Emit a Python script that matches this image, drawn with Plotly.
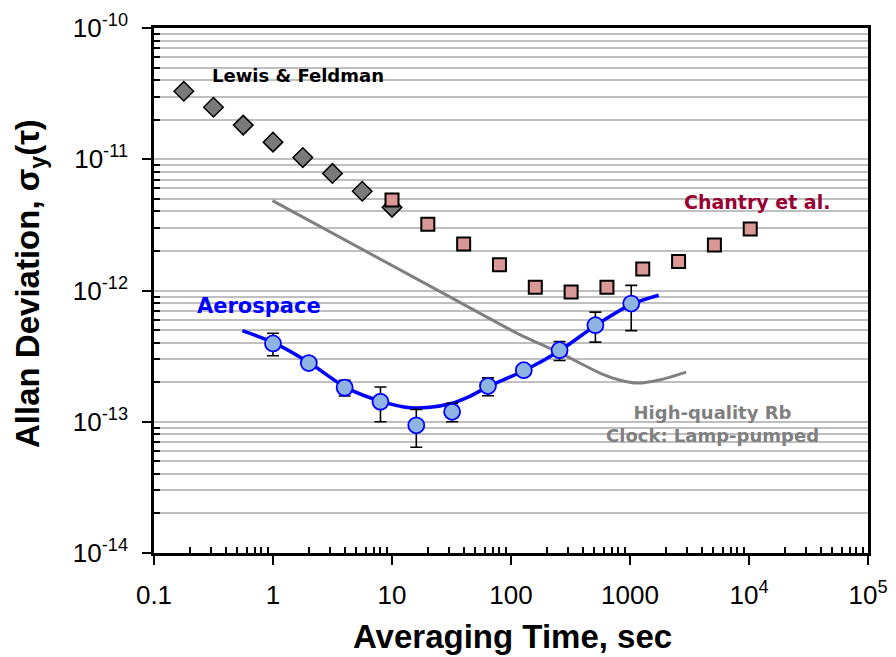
import plotly.graph_objects as go

# ---------------- data ----------------
lewis_tau = [0.178, 0.316, 0.562, 1.0, 1.78, 3.16, 5.62, 10.0]
lewis_sigma = [3.30e-11, 2.49e-11, 1.82e-11, 1.35e-11, 1.03e-11, 7.8e-12, 5.7e-12, 4.3e-12]

chantry_tau = [10, 20, 40, 80, 160, 320, 640, 1280, 2560, 5120, 10240]
chantry_sigma = [4.9e-12, 3.2e-12, 2.26e-12, 1.57e-12, 1.06e-12, 0.975e-12, 1.06e-12,
                 1.46e-12, 1.66e-12, 2.22e-12, 2.94e-12]

aero_tau = [1, 2, 4, 8, 16, 32, 64, 128, 256, 512, 1024]
aero_sigma = [3.95e-13, 2.80e-13, 1.82e-13, 1.42e-13, 9.4e-14, 1.19e-13, 1.87e-13,
              2.47e-13, 3.51e-13, 5.44e-13, 7.95e-13]
aero_err = [0.77e-13, 0.2e-13, 0.25e-13, 0.42e-13, 0.30e-13, 0.19e-13, 0.29e-13,
            0.2e-13, 0.58e-13, 1.4e-13, 3.0e-13]

aero_fit_tau = [0.553, 1.03, 2.05, 4.12, 8.22, 14.2, 20.9, 30.8, 45.5, 65.6, 131, 261, 518, 1047, 1742]
aero_fit_sigma = [4.95e-13, 3.97e-13, 2.79e-13, 1.82e-13, 1.425e-13, 1.28e-13, 1.29e-13,
                  1.37e-13, 1.57e-13, 1.87e-13, 2.47e-13, 3.51e-13, 5.44e-13, 7.9e-13, 9.2e-13]

rb_tau = [0.99, 25.4, 119.7, 260, 564, 830, 1148, 1803, 2966]
rb_sigma = [4.84e-12, 9.8e-13, 4.59e-13, 3.33e-13, 2.34e-13, 2.07e-13, 1.97e-13, 2.09e-13, 2.39e-13]

x_tickvals = [0.1, 1, 10, 100, 1000, 1e4, 1e5]
x_ticktext = ["0.1", "1", "10", "100", "1000", "10<sup>4</sup>", "10<sup>5</sup>"]
y_tickvals = [1e-14, 1e-13, 1e-12, 1e-11, 1e-10]
y_ticktext = ["10<sup>-14</sup>", "10<sup>-13</sup>", "10<sup>-12</sup>", "10<sup>-11</sup>", "10<sup>-10</sup>"]

# ---------------- layout helpers ----------------
OFF = 8  # page body margin
W, H = 896 - OFF, 657 - OFF
L, R, T, B = 154, 868, 28, 553  # plot area in screen pixels


def px(x):
    return (x - L) / (R - L)


def py(y):
    return 1 - (y - T) / (B - T)


fig = go.Figure()

fig.add_trace(go.Scatter(x=rb_tau, y=rb_sigma, mode="lines",
                         line=dict(color="#808080", width=3, shape="spline", smoothing=0.6),
                         showlegend=False, hoverinfo="skip"))
fig.add_trace(go.Scatter(x=aero_fit_tau, y=aero_fit_sigma, mode="lines",
                         line=dict(color="#0000FF", width=3.5, shape="spline", smoothing=0.8),
                         showlegend=False, hoverinfo="skip"))
fig.add_trace(go.Scatter(x=aero_tau, y=aero_sigma, mode="markers",
                         marker=dict(symbol="circle", size=16, color="#8DB4E2",
                                     line=dict(color="#0000FF", width=1.8)),
                         error_y=dict(type="data", array=aero_err, visible=True,
                                      color="black", thickness=1.6, width=6),
                         showlegend=False))
fig.add_trace(go.Scatter(x=lewis_tau, y=lewis_sigma, mode="markers",
                         marker=dict(symbol="diamond", size=15, color="#7A7A7A",
                                     line=dict(color="black", width=1.5)),
                         showlegend=False))
fig.add_trace(go.Scatter(x=chantry_tau, y=chantry_sigma, mode="markers",
                         marker=dict(symbol="square", size=13, color="#D99795",
                                     line=dict(color="black", width=2)),
                         showlegend=False))

# white label boxes (cover grid lines, under traces)
boxes = [(198, 52, 400, 93), (670, 186, 850, 216), (182, 288, 335, 322), (585, 395, 836, 457)]
for x0, y0, x1, y1 in boxes:
    fig.add_shape(type="rect", xref="paper", yref="paper",
                  x0=px(x0), x1=px(x1), y0=py(y1), y1=py(y0),
                  fillcolor="white", line=dict(width=0), layer="between")

lab_font = "DejaVu Sans"


def label(x, y, text, size, color, family=lab_font, angle=0):
    fig.add_annotation(xref="paper", yref="paper", x=px(x), y=py(y), text=text,
                       xanchor="center", yanchor="middle", textangle=angle,
                       showarrow=False, font=dict(family=family, size=size, color=color))


label(298, 75, "<b>Lewis &amp; Feldman</b>", 18, "black")
label(757, 202, "<b>Chantry et al.</b>", 19, "#990033")
label(259, 306, "<b>Aerospace</b>", 21, "#0000FF")
label(712, 424, "<b>High-quality Rb</b><br><b>Clock: Lamp-pumped</b>", 18, "#808080")

# axis titles
label(512, 636, "<b>Averaging Time, sec</b>", 33, "black", family="Liberation Sans, Arial")
label(30, 284, "<b>Allan Deviation, σ<sub>y</sub>(τ)</b>", 33, "black",
      family="Liberation Sans, Arial", angle=-90)

minor_x = [m * 10 ** e for e in range(-1, 5) for m in range(2, 10)]
minor_y = [m * 10.0 ** e for e in range(-14, -10) for m in range(2, 10)]

fig.update_xaxes(type="log", range=[-1, 5], tickvals=x_tickvals, ticktext=x_ticktext,
                 automargin=False,
                 showline=True, linecolor="black", linewidth=2.5, mirror=True,
                 ticks="outside", ticklen=9, tickwidth=2, tickcolor="black",
                 ticklabelstandoff=8,
                 showgrid=False, zeroline=False,
                 tickfont=dict(family="Liberation Sans, Arial", size=26, color="black"),
                 minor=dict(tickvals=minor_x, ticks="inside", ticklen=6, tickwidth=1.5,
                            tickcolor="black", showgrid=False))
fig.update_yaxes(type="log", range=[-14, -10], tickvals=y_tickvals, ticktext=y_ticktext,
                 automargin=False,
                 showline=True, linecolor="black", linewidth=2.5, mirror=True,
                 ticks="outside", ticklen=9, tickwidth=2, tickcolor="black",
                 ticklabelstandoff=9,
                 showgrid=True, gridcolor="#BFBFBF", gridwidth=1.5, zeroline=False,
                 tickfont=dict(family="Liberation Sans, Arial", size=26, color="black"),
                 minor=dict(tickvals=minor_y, ticks="inside", ticklen=6, tickwidth=1.5,
                            tickcolor="black", showgrid=True, gridcolor="#BFBFBF", gridwidth=1.5))

fig.update_layout(width=W, height=H,
                  margin=dict(l=L - OFF, r=896 - R, t=T - OFF, b=657 - B),
                  plot_bgcolor="white", paper_bgcolor="white", showlegend=False)

fig.write_html("out.html")
